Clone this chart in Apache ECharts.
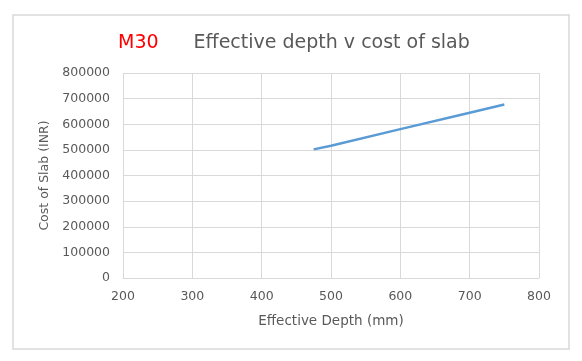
<!DOCTYPE html>
<html><head><meta charset="utf-8">
<script src="https://cdn.jsdelivr.net/npm/echarts@6/dist/echarts.min.js"></script>
<style>html,body{margin:0;padding:0;background:#fff;}#c{width:582px;height:361px;}</style>
</head><body><div id="c"></div>
<script>
const depth = [475, 500, 600, 700, 750];
const cost = [502000, 516000, 581000, 645000, 677000];
const xTicks = [200, 300, 400, 500, 600, 700, 800];
const yTicks = [0, 100000, 200000, 300000, 400000, 500000, 600000, 700000, 800000];

const chart = echarts.init(document.getElementById('c'), null, {renderer: 'canvas'});
const font = 'DejaVu Sans';
chart.setOption({
  animation: false,
  backgroundColor: '#fff',
  graphic: [{
    type: 'rect', shape: {x: 13, y: 15, width: 556, height: 334},
    style: {fill: 'none', stroke: '#d9d9d9', lineWidth: 1.5}
  }],
  title: {
    text: '{r|M30}{s|}{g|Effective depth v cost of slab}',
    left: 113, top: 29,
    textStyle: {
      rich: {
        r: {color: '#ff0000', fontSize: 19, fontFamily: font, fontWeight: 'normal'},
        s: {width: 35},
        g: {color: '#595959', fontSize: 19, fontFamily: font, fontWeight: 'normal'}
      }
    }
  },
  grid: {left: 123, right: 43, top: 73, bottom: 83},
  xAxis: {
    type: 'value', min: xTicks[0], max: xTicks[xTicks.length - 1], interval: 100,
    name: 'Effective Depth (mm)', nameLocation: 'middle', nameGap: 36,
    nameTextStyle: {color: '#595959', fontSize: 13.5, fontFamily: font},
    axisLine: {show: true, lineStyle: {color: '#d9d9d9', width: 1}},
    axisTick: {show: false},
    axisLabel: {color: '#595959', fontSize: 12.5, fontFamily: font, margin: 12},
    splitLine: {show: true, lineStyle: {color: '#d9d9d9', width: 1}}
  },
  yAxis: {
    type: 'value', min: yTicks[0], max: yTicks[yTicks.length - 1], interval: 100000,
    name: 'Cost of Slab (INR)', nameLocation: 'middle', nameGap: 67,
    nameTextStyle: {color: '#595959', fontSize: 12.5, fontFamily: font},
    axisLine: {show: false},
    axisTick: {show: false},
    axisLabel: {color: '#595959', fontSize: 12.5, fontFamily: font, margin: 13,
      formatter: v => String(v)},
    splitLine: {show: true, lineStyle: {color: '#d9d9d9', width: 1}}
  },
  series: [{
    type: 'line',
    data: depth.map((d, i) => [d, cost[i]]),
    showSymbol: false,
    lineStyle: {color: '#5b9bd5', width: 2.5},
    itemStyle: {color: '#5b9bd5'}
  }]
});
</script></body></html>
